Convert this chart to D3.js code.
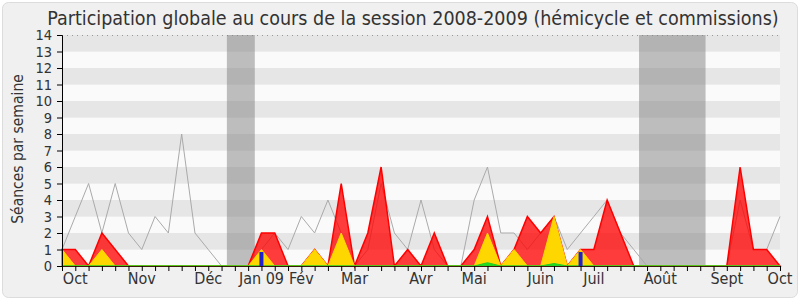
<!DOCTYPE html>
<html>
<head>
<meta charset="utf-8">
<script src="https://cdn.jsdelivr.net/npm/d3@7"></script>
<style>
  body { margin: 0; background: #fff; }
  svg text { font-family: "DejaVu Sans Condensed", "DejaVu Sans", sans-serif; }
</style>
</head>
<body>
<svg id="svg" width="800" height="300"></svg>
<script>
// data, one value per week of the session (55 weeks)
const total = [1, 3, 5, 2, 5, 2, 1, 3, 2, 8, 2, 1, 0, 0, 0, 1, 2, 1, 3, 2, 4, 2, 0, 1, 5, 2, 1, 4, 1, 0,
  0, 4, 6, 2, 2, 1, 2, 3, 1, 2, 3, 4, 2, 1, 0, 0, 0, 0, 0, 0, 0, 4, 1, 1, 3];
const presences = [1, 1, 0, 2, 1, 0, 0, 0, 0, 0, 0, 0, 0, 0, 0, 2, 2, 0, 0, 1, 0, 5, 0, 2, 6, 0, 1, 0, 2, 0,
  0, 1, 3, 0, 1, 3, 2, 3, 0, 1, 1, 4, 2, 0, 0, 0, 0, 0, 0, 0, 0, 6, 1, 1, 0];
const hemicycle = [1, 0, 0, 1, 0, 0, 0, 0, 0, 0, 0, 0, 0, 0, 0, 1, 0, 0, 0, 1, 0, 2, 0, 0, 0, 0, 0, 0, 0, 0,
  0, 0, 2, 0, 1, 0, 0, 3, 0, 1, 0, 0, 0, 0, 0, 0, 0, 0, 0, 0, 0, 0, 0, 0, 0];
const questions = [0, 0, 0, 0, 0, 0, 0, 0, 0, 0, 0, 0, 0, 0, 0, 0, 0, 0, 0, 0, 0, 0, 0, 0, 0, 0, 0, 0, 0, 0,
  0, 0, 0.2, 0, 0, 0, 0, 0.15, 0, 0, 0, 0, 0, 0, 0, 0, 0, 0, 0, 0, 0, 0, 0, 0, 0];
const interventions = [{week: 15, value: 0.85}, {week: 39, value: 0.85}];
const vacances = [[12.4, 14.5], [43.4, 48.4]];
const months = ['Oct', 'Nov', 'Déc', 'Jan 09', 'Fév', 'Mar', 'Avr', 'Mai', 'Juin', 'Juil', 'Août', 'Sept', 'Oct'];
const monthWeeks = [1, 6, 11, 15, 18, 22, 27, 31, 36, 40, 45, 50, 54];

const svg = d3.select('svg');
const m = {left: 62, right: 780, top: 35, bottom: 266};

const x = d3.scaleLinear().domain([0, 54]).range([m.left, m.right]);
const y = d3.scaleLinear().domain([0, 14]).range([m.bottom, m.top]);

// frame
svg.append('rect').attr('x', 2.5).attr('y', 2.5).attr('width', 795).attr('height', 295)
  .attr('rx', 6).attr('fill', '#f0f0f0').attr('stroke', '#dcdcdc');

svg.append('text').attr('x', 413).attr('y', 25).attr('text-anchor', 'middle')
  .attr('font-size', 19.5).attr('fill', '#333')
  .text('Participation globale au cours de la session 2008-2009 (hémicycle et commissions)');

// stripes
svg.append('g').selectAll('rect').data(d3.range(14)).join('rect')
  .attr('x', m.left).attr('width', m.right - m.left)
  .attr('y', d => y(d + 1)).attr('height', d => y(d) - y(d + 1))
  .attr('fill', d => d % 2 ? '#e6e6e6' : '#fafafa');

svg.append('line').attr('x1', m.left).attr('x2', m.right).attr('y1', m.top + 0.5).attr('y2', m.top + 0.5)
  .attr('stroke', '#999').attr('stroke-dasharray', '1,4');

// holidays
svg.append('g').selectAll('rect').data(vacances).join('rect')
  .attr('x', d => x(d[0])).attr('width', d => x(d[1]) - x(d[0]))
  .attr('y', m.top).attr('height', m.bottom - m.top)
  .attr('fill', 'rgba(128,128,128,0.5)');

const line = d3.line().x((d, i) => x(i)).y(d => y(d));
const area = d3.area().x((d, i) => x(i)).y0(y(0)).y1(d => y(d));

svg.append('path').datum(total).attr('d', line)
  .attr('fill', 'none').attr('stroke', '#aaa').attr('stroke-width', 1);

svg.append('path').datum(presences).attr('d', area)
  .attr('fill', 'rgba(255,0,0,0.76)').attr('stroke', '#ff0000').attr('stroke-width', 1.5);

svg.append('path').datum(hemicycle).attr('d', area)
  .attr('fill', '#ffd700').attr('stroke', '#ffd700').attr('stroke-width', 1);

svg.append('path').datum(questions).attr('d', area)
  .attr('fill', '#22dd22').attr('stroke', '#22cc22').attr('stroke-width', 1);

svg.append('g').selectAll('rect').data(interventions).join('rect')
  .attr('x', d => x(d.week) - 2).attr('width', 4)
  .attr('y', d => y(d.value)).attr('height', d => y(0) - y(d.value))
  .attr('fill', '#2222cc');

// axes
const yAxis = d3.axisLeft(y).ticks(14).tickSize(5).tickPadding(5);
const gy = svg.append('g').attr('transform', `translate(${m.left},0)`).call(yAxis);
gy.selectAll('text').attr('font-size', 14.5).attr('fill', '#333');

const xAxis = d3.axisBottom(x).tickValues(d3.range(55)).tickSize(5).tickFormat('');
const gx = svg.append('g').attr('transform', `translate(0,${m.bottom})`).call(xAxis);
gx.select('.domain').attr('stroke', '#3a1a0a');

svg.append('g').selectAll('text').data(months).join('text')
  .attr('x', (d, i) => x(monthWeeks[i])).attr('y', 284)
  .attr('text-anchor', 'middle').attr('font-size', 16).attr('fill', '#333')
  .text(d => d);

svg.append('text').attr('transform', 'translate(23,149) rotate(-90)')
  .attr('text-anchor', 'middle').attr('font-size', 15.5).attr('fill', '#333')
  .text('Séances par semaine');
</script>
</body>
</html>
